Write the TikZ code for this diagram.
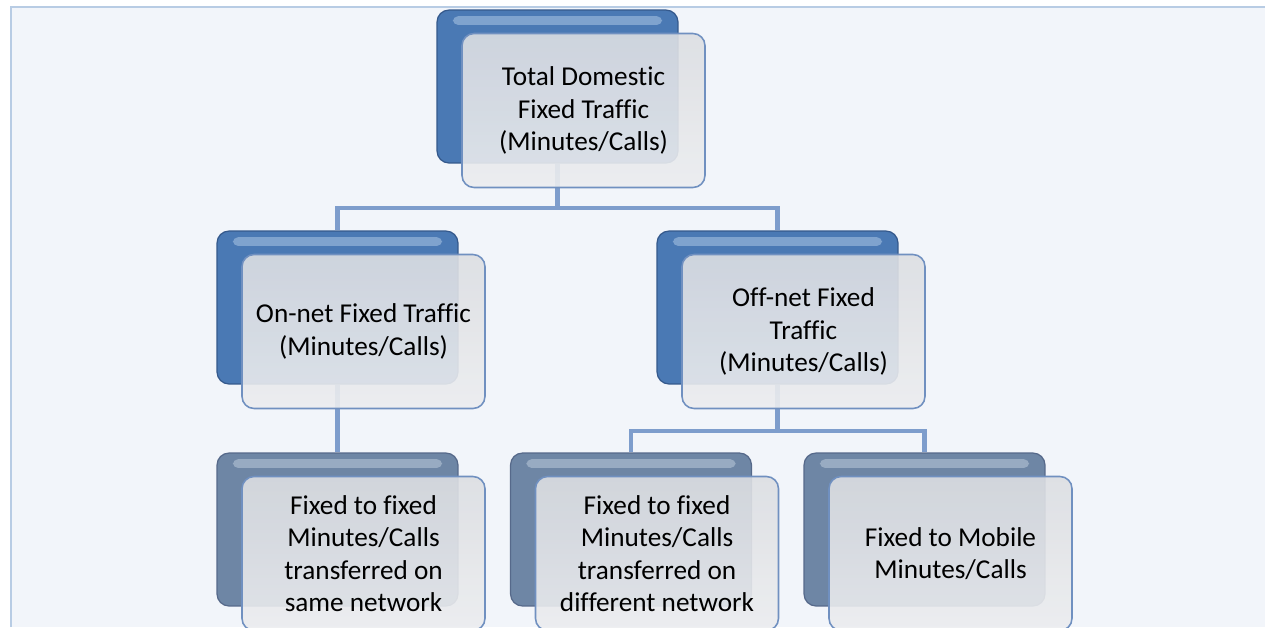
\documentclass[tikz,border=0pt]{standalone}
\usepackage{fontspec}
\setmainfont{Carlito}[Ligatures=NoCommon]
\usetikzlibrary{calc}
\definecolor{pagebg}{HTML}{F2F5FA}
\definecolor{pageedge}{HTML}{B8CCE4}
\definecolor{linkblue}{HTML}{7E9DCC}
\definecolor{backedge}{HTML}{35598C}
\definecolor{frontedge}{HTML}{7090C0}
\definecolor{frontA}{HTML}{DCDEE2}
\definecolor{frontB}{HTML}{ECEDEF}
\definecolor{bmain}{HTML}{4A79B4}
\definecolor{blight}{HTML}{7FA3CE}
\definecolor{gedge}{HTML}{56698A}
\definecolor{gmain}{HTML}{6E86A5}
\definecolor{glight}{HTML}{98ABC2}
\begin{document}
\begin{tikzpicture}[x=0.02cm,y=-0.02cm,
	back/.style={rounded corners=0.24cm,minimum width=4.82cm,minimum height=3.06cm,draw=backedge,line width=0.7pt,fill=bmain,
		path picture={\fill[blight,rounded corners=3pt] ([xshift=9pt,yshift=-3.5pt]path picture bounding box.north west) rectangle ([xshift=-9pt,yshift=-8.5pt]path picture bounding box.north east);}},
	backgrey/.style={back,draw=gedge,fill=gmain,
		path picture={\fill[glight,rounded corners=3pt] ([xshift=9pt,yshift=-3.5pt]path picture bounding box.north west) rectangle ([xshift=-9pt,yshift=-8.5pt]path picture bounding box.north east);}},
	front/.style={rounded corners=0.24cm,minimum width=4.86cm,minimum height=3.08cm,draw=frontedge,line width=0.9pt,top color=frontA,bottom color=frontB,fill opacity=0.9,text opacity=1,align=center,font=\fontsize{15.5}{18.5}\selectfont},
	link/.style={draw=linkblue,line width=2.6pt}]
	\useasboundingbox (0,0) rectangle (1265,627);
	\fill[pagebg] (11,7) rectangle (1265,627);
	\draw[pageedge,line width=1.2pt] (11,627) -- (11,7) -- (1265,7);
	% back boxes
	\node (topb) at (557.5,86.5) [back] {};
	\node (onb) at (337.5,307.5) [back] {};
	\node (offb) at (777.5,307.5) [back] {};
	\node (sameb) at (337.5,529.5) [backgrey] {};
	\node (diffb) at (631,529.5) [backgrey] {};
	\node (mobb) at (924.5,529.5) [backgrey] {};
	% connectors
	\coordinate (bus1) at (557.5,208);
	\coordinate (bus2) at (777.5,431);
	\draw [link] (topb.south) -- (bus1) -| (onb.north);
	\draw [link] (bus1) -| (offb.north);
	\draw [link] (onb.south) -- (sameb.north);
	\draw [link] (offb.south) -- (bus2) -| (diffb.north);
	\draw [link] (bus2) -| (mobb.north);
	% front boxes
	\node (top) at ($(topb)+(26,24)$) [front] {Total Domestic\\Fixed Traffic\\(Minutes/Calls)};
	\node (on) at ($(onb)+(26,24)$) [front] {On-net Fixed Traffic\\(Minutes/Calls)};
	\node (off) at ($(offb)+(26,24)$) [front] {Off-net Fixed\\Traffic\\(Minutes/Calls)};
	\node (same) at ($(sameb)+(26,24)$) [front] {Fixed to fixed\\Minutes/Calls\\transferred on\\same network};
	\node (diff) at ($(diffb)+(26,24)$) [front] {Fixed to fixed\\Minutes/Calls\\transferred on\\different network};
	\node (mob) at ($(mobb)+(26,24)$) [front] {Fixed to Mobile\\Minutes/Calls};
\end{tikzpicture}
\end{document}
